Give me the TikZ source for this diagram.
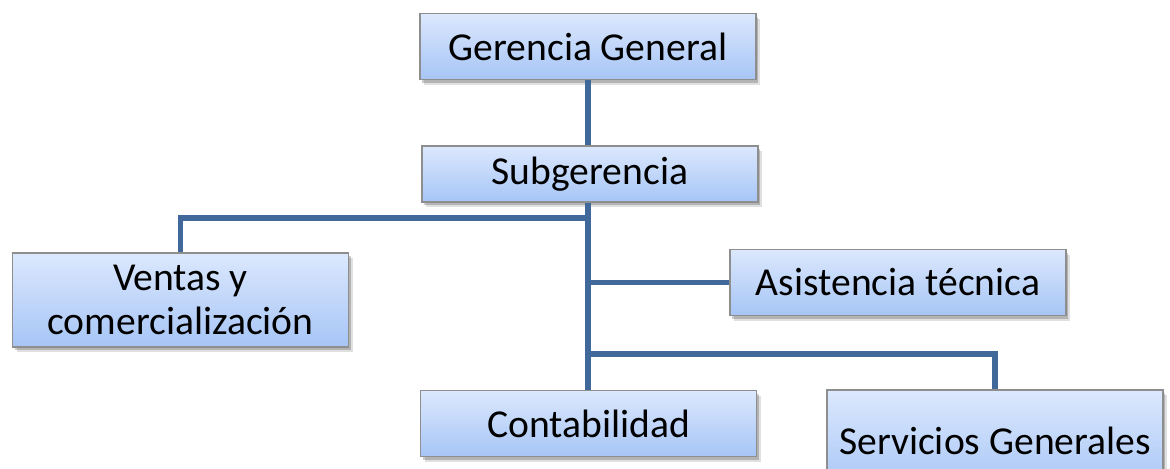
\documentclass[tikz,border=0pt]{standalone}
\usepackage{fontspec}
\setmainfont{Carlito}
\usetikzlibrary{calc}
\usetikzlibrary{shadows}

\definecolor{boxtop}{HTML}{DCE8FD}
\definecolor{boxbot}{HTML}{A6C5F6}
\definecolor{boxline}{HTML}{8E8E8E}
\definecolor{linkcol}{HTML}{41689A}

\tikzset{
  unitbox/.style={draw=boxline,line width=0.6pt,top color=boxtop,bottom color=boxbot,
    minimum width=168pt,minimum height=33pt,inner sep=0pt,align=center,
    font=\fontsize{19.8}{22}\selectfont,
    drop shadow={shadow xshift=2pt,shadow yshift=-2.6pt,fill=black,opacity=0.12},
    drop shadow={shadow xshift=1.2pt,shadow yshift=-1.6pt,fill=black,opacity=0.2}},
  link/.style={draw=linkcol,line width=2.6pt}
}

\begin{document}
\begin{tikzpicture}[x=0.5pt,y=-0.5pt]
\useasboundingbox (0,0) rectangle (1170,468);

\node[unitbox] (gg) at (588,46.5) {Gerencia General};
\node[unitbox,minimum height=28pt] (sub) at (590,174) {Subgerencia};
\node[unitbox,minimum height=47pt] (vent) at (180.5,300) {Ventas y\\comercialización};
\node[unitbox] (asis) at (898,282.5) {Asistencia técnica};
\node[unitbox] (cont) at (588.5,423.5) {Contabilidad};
\node[unitbox,minimum height=51pt] (serv) at (995,441) {Servicios Generales};

\coordinate (trunk) at (588,0);

\draw[link] (gg.south) -- (gg.south |- sub.north);
\draw[link] (trunk |- sub.south) -- (cont.north -| trunk);
\draw[link] (trunk |- 0,218) -- (vent.north |- 0,218) -- (vent.north);
\draw[link] (trunk |- asis.west) -- (asis.west);
\draw[link] (trunk |- 0,354) -- (serv.north |- 0,354) -- (serv.north);

\end{tikzpicture}
\end{document}
